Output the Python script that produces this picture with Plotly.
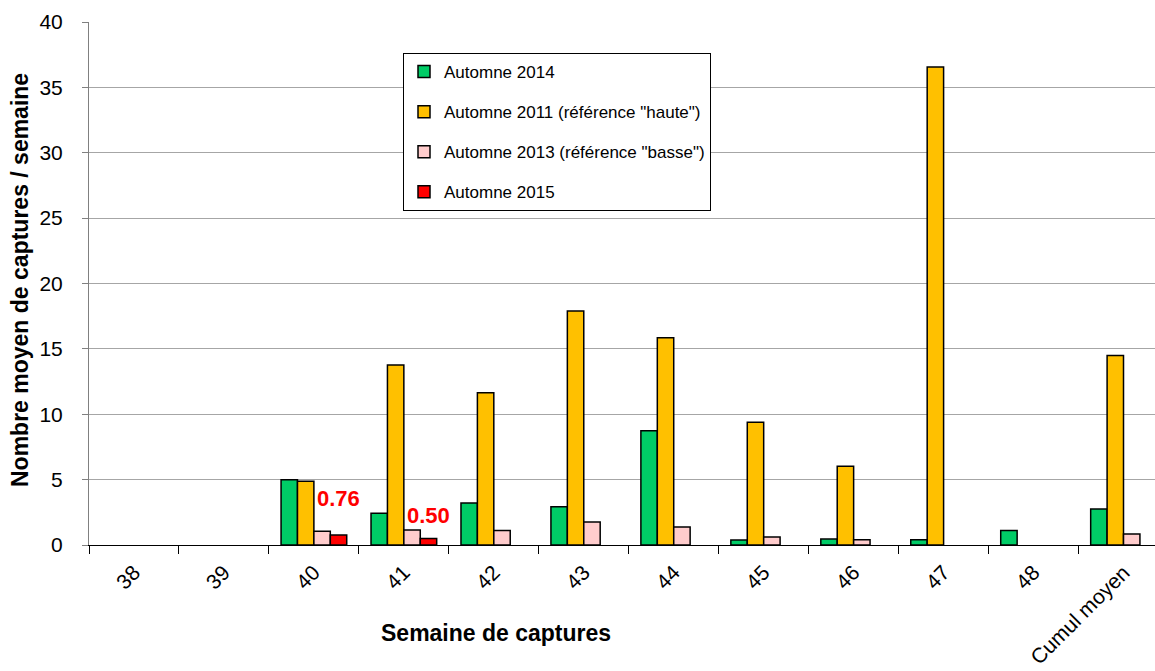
import plotly.graph_objects as go

categories = ["38", "39", "40", "41", "42", "43", "44", "45", "46", "47", "48", "Cumul moyen"]
automne_2014 = [None, None, 5.0, 2.42, 3.21, 2.93, 8.74, 0.38, 0.45, 0.4, 1.1, 2.75]
automne_2011 = [None, None, 4.88, 13.77, 11.65, 17.9, 15.86, 9.38, 6.02, 36.55, None, 14.5]
automne_2013 = [None, None, 1.05, 1.15, 1.1, 1.76, 1.38, 0.61, 0.4, None, None, 0.85]
automne_2015 = [None, None, 0.76, 0.50, None, None, None, None, None, None, None, None]
labels_2015 = ["", "", "0.76", "0.50", "", "", "", "", "", "", "", ""]

series = [
    ("Automne 2014", automne_2014, "#00CC66"),
    ('Automne 2011 (référence "haute")', automne_2011, "#FFC000"),
    ('Automne 2013 (référence "basse")', automne_2013, "#FFCCCC"),
    ("Automne 2015", automne_2015, "#FF0000"),
]

FONT = "Liberation Sans, Arial, sans-serif"

fig = go.Figure()
for i, (name, vals, col) in enumerate(series):
    fig.add_trace(go.Bar(
        x=categories, y=vals, name=name, legendgroup=f"g{i}",
        marker=dict(color=col, line=dict(color="black", width=1.5)),
    ))

# red value labels above the 2015 bars (category index used for x)
yshifts = {"0.76": 22, "0.50": 8}
for idx, (v, lab) in enumerate(zip(automne_2015, labels_2015)):
    if v is not None and lab:
        fig.add_annotation(
            x=idx, y=v, text=f"<b>{lab}</b>", showarrow=False,
            xshift=25, yshift=yshifts.get(lab, 10), yanchor="bottom",
            font=dict(family=FONT, size=22, color="#FF0000"),
        )

# axis titles placed as in the reference
fig.add_annotation(
    xref="paper", yref="paper", x=(496 - 89) / 1066, y=-(633 - 545) / 523,
    text="<b>Semaine de captures</b>", showarrow=False,
    xanchor="center", yanchor="middle",
    font=dict(family=FONT, size=23, color="black"),
)
fig.add_annotation(
    xref="paper", yref="paper", x=(20 - 89) / 1066, y=(545 - 280) / 523,
    text="<b>Nombre moyen de captures / semaine</b>", showarrow=False,
    textangle=-90, xanchor="center", yanchor="middle",
    font=dict(family=FONT, size=23, color="black"),
)

fig.update_layout(
    width=1155, height=671,
    margin=dict(l=89, r=0, t=22, b=126, autoexpand=False),
    paper_bgcolor="white", plot_bgcolor="white",
    barmode="group", bargap=0.27, bargroupgap=0,
    font=dict(family=FONT, size=21, color="black"),
    showlegend=True,
    legend=dict(
        x=(403 - 89) / 1066, y=(545 - 53) / 523, xanchor="left", yanchor="top",
        bordercolor="black", borderwidth=1, bgcolor="white",
        font=dict(family=FONT, size=17, color="black"),
        tracegroupgap=15, traceorder="grouped",
        entrywidth=365, entrywidthmode="pixels",
    ),
    xaxis=dict(
        type="category", range=[-0.5, 11.35],
        showline=True, linecolor="black", linewidth=1,
        ticks="outside", tickson="boundaries", ticklen=8, tickcolor="black",
        tickangle=-45, tickfont=dict(family=FONT, size=21, color="black"),
        ticklabelstandoff=6,
        showgrid=False, automargin=False,
    ),
    yaxis=dict(
        range=[0, 40], dtick=5, tick0=0,
        showline=True, linecolor="#808080", linewidth=1,
        ticks="outside", ticklen=6, tickcolor="#808080",
        showgrid=True, gridcolor="#a6a6a6", gridwidth=1,
        zeroline=False, ticklabelstandoff=15,
        tickfont=dict(family=FONT, size=21, color="black"),
        automargin=False,
    ),
)

fig.write_html("out.html", config={"displayModeBar": False},
               post_script="document.body.style.margin='0px';")
